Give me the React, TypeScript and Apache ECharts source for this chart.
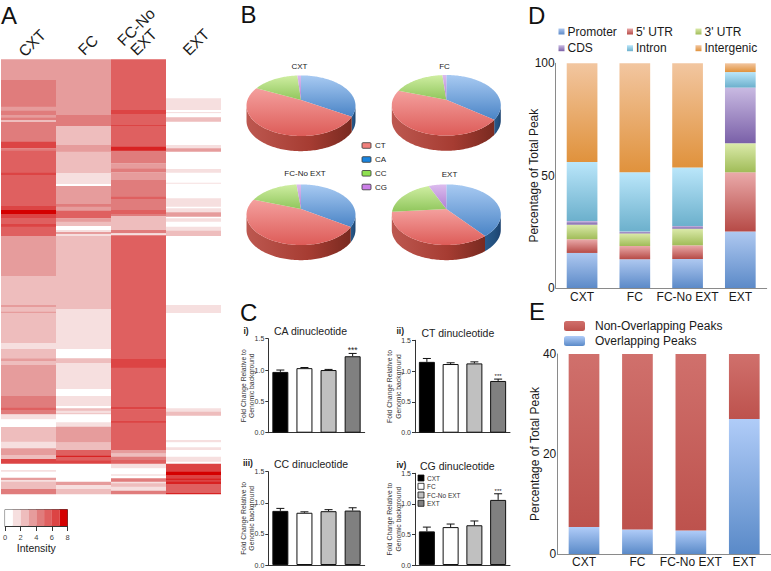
import React, { useEffect, useRef } from "react";
import * as echarts from "echarts";

const FONT = "Liberation Sans";

// ---------- Panel A: heat map, run-length rows [endRow, level]; rows are continuous from 178
const heatColumns = ["CXT", "FC", "FC-No EXT", "EXT"];
const heatStart = 178;
const heatEnd = 1482;
const heatCXT = [[240,3],[320,4],[332,3],[345,4],[352,3],[360,4],[366,2],[425,4],[445,6],[452,4],[518,5],[525,6],[618,5],[630,6],[642,8],[654,6],[672,5],[680,6],[708,5],[828,3],[915,2],[921,3],[935,2],[939,3],[1030,2],[1047,1],[1075,2],[1083,3],[1095,2],[1188,3],[1223,4],[1230,5],[1243,4],[1258,1],[1281,0],[1325,2],[1345,1],[1365,3],[1377,2],[1391,6],[1410,0],[1415,1],[1433,0],[1440,3],[1445,1],[1467,2],[1482,4]];
const heatFC = [[345,3],[378,4],[435,2],[455,3],[520,2],[552,1],[558,0],[612,3],[620,4],[632,3],[655,5],[665,3],[678,2],[690,0],[696,1],[702,3],[708,1],[927,2],[1047,1],[1075,0],[1090,2],[1167,1],[1188,0],[1218,1],[1225,0],[1232,2],[1240,1],[1243,2],[1267,0],[1280,1],[1327,3],[1350,2],[1367,5],[1371,7],[1381,5],[1391,6],[1445,0],[1455,3],[1467,1],[1482,2]];
const heatFCNo = [[330,5],[342,6],[360,5],[375,5],[378,6],[440,5],[452,7],[490,4],[505,3],[517,4],[540,3],[555,4],[590,4],[597,5],[630,4],[642,5],[648,4],[690,2],[700,4],[706,1],[1075,5],[1103,6],[1221,5],[1228,6],[1263,5],[1268,6],[1350,5],[1360,3],[1370,2],[1380,4],[1391,5],[1405,1],[1423,0],[1427,1],[1435,0],[1445,4],[1450,1],[1460,2],[1472,1],[1482,4]];
const heatEXT = [[295,0],[330,1],[336,0],[340,1],[352,0],[365,2],[435,0],[445,1],[455,3],[507,0],[518,1],[548,0],[551,1],[595,0],[620,1],[625,0],[637,1],[650,3],[655,0],[665,1],[680,0],[692,1],[708,2],[915,0],[939,1],[1225,0],[1235,1],[1247,2],[1320,0],[1327,1],[1342,0],[1350,1],[1370,0],[1385,1],[1391,0],[1415,6],[1425,8],[1435,6],[1440,7],[1445,6],[1452,7],[1479,5],[1482,7]];
const heatRuns = [heatCXT, heatFC, heatFCNo, heatEXT];
const heatPalette = ["#ffffff","#f6dfdf","#eebdbd","#e69c9c","#e07c7c","#df6060","#dc4444","#d82222","#d40000"];
const intensityCells = [0,1,2,3,4,5,6,8];

// ---------- Panel B: pies (percent)
const pieNames = ["CXT", "FC", "FC-No EXT", "EXT"];
const nucleotides = ["CT", "CA", "CC", "CG"];
const pieCA = [33.5, 35.3, 34.2, 39.3];
const pieCT = [48.6, 44.9, 46.2, 34.3];
const pieCC = [16.6, 18.4, 18.0, 20.0];
const pieCG = [1.3, 1.4, 1.6, 6.4];

// ---------- Panel C
const groups = ["CXT", "FC", "FC-No EXT", "EXT"];
const groupFill = ["#000000", "#ffffff", "#c0c0c0", "#808080"];
const caValues = [0.97, 1.03, 1.0, 1.22];
const caErrors = [0.03, 0.01, 0.01, 0.045];
const ctValues = [1.15, 1.115, 1.125, 0.84];
const ctErrors = [0.055, 0.02, 0.025, 0.03];
const ccValues = [0.87, 0.84, 0.865, 0.875];
const ccErrors = [0.04, 0.015, 0.025, 0.045];
const cgValues = [0.55, 0.62, 0.65, 1.065];
const cgErrors = [0.07, 0.05, 0.07, 0.1];

// ---------- Panel D
const promoter = [15.6, 12.8, 12.9, 25.1];
const utr5 = [6.1, 5.9, 6.1, 26.4];
const utr3 = [6.5, 5.6, 7.4, 12.9];
const cds = [1.6, 0.8, 1.2, 24.8];
const intron = [26.3, 26.4, 26.0, 6.9];
const intergenic = [43.9, 48.5, 46.4, 3.9];

// ---------- Panel E
const overlapping = [5.4, 4.9, 4.7, 27];
const nonOverlapping = [34.6, 35.1, 35.3, 13];

const vGrad = (a: string, b: string) =>
  new echarts.graphic.LinearGradient(0, 0, 0, 1, [
    { offset: 0, color: a },
    { offset: 1, color: b },
  ]);

const PIE_TOP: string[][] = [
  ["#f4a09e", "#dd5c58"],
  ["#a8caf2", "#4a84c6"],
  ["#cfeea2", "#90c65c"],
  ["#dcbcee", "#b080d2"],
];
const PIE_SIDE: string[][] = [
  ["#bd5850", "#a63c32", "#792a20"],
  ["#2a5a8c", "#22507e", "#1c4270"],
  ["#7aa84a", "#6a9a40", "#5a8a34"],
  ["#9a70b8", "#8a60a8", "#7a5098"],
];
const APEX_V = -0.187;
const DEPTH_V = 0.5;

function rim(theta: number): [number, number] {
  const dx = Math.sin(theta);
  const dy = -Math.cos(theta);
  const b = APEX_V * dy;
  const c = APEX_V * APEX_V - 1;
  const s = -b + Math.sqrt(b * b - c);
  return [s * dx, APEX_V + s * dy];
}

function renderPieSlice(_: any, api: any) {
  const a0 = api.value(0) * 2 * Math.PI;
  const a1 = api.value(1) * 2 * Math.PI;
  const idx = api.value(2);
  const n = Math.max(4, Math.ceil((a1 - a0) * 40));
  const arc: [number, number][] = [];
  for (let i = 0; i <= n; i++) arc.push(rim(a0 + ((a1 - a0) * i) / n));
  const top = [api.coord([0, APEX_V]), ...arc.map((p) => api.coord(p))];
  const front = arc.filter((p) => p[1] >= 0);
  const children: any[] = [];
  if (front.length > 1) {
    const upper = front.map((p) => api.coord(p));
    const lower = front.map((p) => api.coord([p[0], p[1] + DEPTH_V])).reverse();
    const s = PIE_SIDE[idx];
    children.push({
      type: "polygon",
      shape: { points: [...upper, ...lower] },
      style: {
        fill: new echarts.graphic.LinearGradient(0, 0, 1, 0, [
          { offset: 0, color: s[0] },
          { offset: 0.6, color: s[1] },
          { offset: 1, color: s[2] },
        ]),
      },
    });
  }
  children.push({
    type: "polygon",
    shape: { points: top },
    style: { fill: new echarts.graphic.LinearGradient(0, 0, 0, 1, [
      { offset: 0, color: PIE_TOP[idx][0] },
      { offset: 1, color: PIE_TOP[idx][1] },
    ]) },
  });
  return { type: "group", children };
}

function renderError(_: any, api: any) {
  const cat = api.value(0);
  const v = api.value(1);
  const e = api.value(2);
  const starSize = api.value(3);
  const a = api.coord([cat, v]);
  const b = api.coord([cat, v + e]);
  const ls = { stroke: "#111", lineWidth: 1 };
  const children: any[] = [
    { type: "line", shape: { x1: a[0], y1: a[1], x2: b[0], y2: b[1] }, style: ls },
    { type: "line", shape: { x1: b[0] - 4, y1: b[1], x2: b[0] + 4, y2: b[1] }, style: ls },
  ];
  if (starSize > 0) {
    children.push({
      type: "text",
      style: { text: "***", x: b[0], y: b[1] - 3, align: "center", verticalAlign: "middle", fontSize: starSize, fill: "#222", fontFamily: FONT },
    });
  }
  return { type: "group", children };
}

function renderHeat(_: any, api: any) {
  const c = api.coord([api.value(0), api.value(1)]);
  const d = api.coord([api.value(0), api.value(2)]);
  const w = api.size([1, 0])[0];
  return {
    type: "rect",
    shape: { x: c[0] - w / 2, y: c[1], width: w, height: d[1] - c[1] + 0.3 },
    style: { fill: heatPalette[api.value(3)] },
  };
}

function renderCell(_: any, api: any) {
  const a = api.coord([api.value(0), 0]);
  const b = api.coord([api.value(0) + 1, 1]);
  return {
    type: "rect",
    shape: { x: a[0], y: b[1], width: b[0] - a[0], height: a[1] - b[1] },
    style: { fill: heatPalette[api.value(1)] },
  };
}

const txt = (text: string, x: number, y: number, fontSize: number, extra: any = {}, rotation = 0) => ({
  type: "text",
  x,
  y,
  rotation,
  silent: true,
  style: {
    text,
    fontSize,
    fontFamily: FONT,
    fill: "#1a1a1a",
    textAlign: "left",
    textVerticalAlign: "middle",
    ...extra,
  },
});

function buildOption() {
  const grid: any[] = [];
  const xAxis: any[] = [];
  const yAxis: any[] = [];
  const series: any[] = [];
  const legend: any[] = [];
  const graphic: any[] = [];
  const hide = { show: false };

  // A: heat map
  grid.push({ left: 1, top: 59.3, width: 220, height: 434.7 });
  xAxis.push({ type: "category", gridIndex: 0, data: heatColumns, show: false });
  yAxis.push({ type: "value", gridIndex: 0, inverse: true, min: heatStart, max: heatEnd, show: false, splitLine: hide });
  const heatData: number[][] = [];
  heatRuns.forEach((runs, col) => {
    let s = heatStart;
    runs.forEach(([end, level]) => {
      heatData.push([col, s, end, level]);
      s = end;
    });
  });
  series.push({ name: "Heat", type: "custom", xAxisIndex: 0, yAxisIndex: 0, renderItem: renderHeat, data: heatData, encode: { x: 0, y: [1, 2] }, silent: true });

  // A: intensity scale
  grid.push({ left: 2.5, top: 509.5, width: 65, height: 16.5, show: true, borderColor: "#444", borderWidth: 1, backgroundColor: "#fff" });
  xAxis.push({
    type: "value", gridIndex: 1, min: 0, max: 8, interval: 2, position: "bottom",
    axisLine: { show: true, onZero: false, lineStyle: { color: "#333" } },
    axisTick: { show: true, length: 5, lineStyle: { color: "#333" } },
    axisLabel: { fontSize: 7.5, color: "#444", margin: 7 },
    splitLine: hide,
    name: "Intensity", nameLocation: "middle", nameGap: 16, nameMoveOverlap: false, nameTextStyle: { fontSize: 10.5, color: "#1a1a1a" },
  });
  yAxis.push({ type: "value", gridIndex: 1, min: 0, max: 1, show: false, splitLine: hide });
  series.push({ name: "Scale", type: "custom", xAxisIndex: 1, yAxisIndex: 1, renderItem: renderCell, data: intensityCells.map((lv, i) => [i, lv]), encode: { x: 0, y: 1 }, silent: true });

  // B: pies
  const pieGeom = [
    { cx: 301, cy: 105.7 },
    { cx: 446.3, cy: 105.3 },
    { cx: 301, cy: 214.7 },
    { cx: 446.3, cy: 214.7 },
  ];
  const titleY = [66, 66, 173.5, 174];
  const titleX = [299.5, 444.5, 305, 449.5];
  pieGeom.forEach((g, i) => {
    const gi = grid.length;
    grid.push({ left: g.cx - 54.5, top: g.cy - 30.3, width: 109, height: 60.6 });
    xAxis.push({ type: "value", gridIndex: gi, min: -1, max: 1, show: false, splitLine: hide });
    yAxis.push({ type: "value", gridIndex: gi, min: -1, max: 1, inverse: true, show: false, splitLine: hide });
    const order: [number, number][] = [[1, pieCA[i]], [0, pieCT[i]], [2, pieCC[i]], [3, pieCG[i]]];
    let acc = 0;
    const data = order.map(([idx, v]) => {
      const row = [acc / 100, (acc + v) / 100, idx];
      acc += v;
      return row;
    });
    series.push({ name: "Pie " + pieNames[i], type: "custom", xAxisIndex: gi, yAxisIndex: gi, renderItem: renderPieSlice, data, silent: true, clip: false });
    graphic.push(txt(pieNames[i], titleX[i], titleY[i], 8, { textAlign: "center" }));
  });
  const swatchY = [145.5, 159.5, 173.3, 187];
  const swatchFill = ["#f0807c", "#1a84de", "#8ee050", "#cc80e8"];
  nucleotides.forEach((n, i) => {
    graphic.push({ type: "rect", silent: true, shape: { x: 362, y: swatchY[i] - 2.8, width: 9, height: 5.6, r: 1 }, style: { fill: swatchFill[i], stroke: "#333", lineWidth: 0.8 } });
    graphic.push(txt(n, 375, swatchY[i], 8));
  });

  // C: dinucleotide bars
  const cPanels = [
    { t: "CA dinucleotide", tag: "i)", v: caValues, e: caErrors, left: 268.3, width: 96.4, top: 338.7, h: 94, star: 8.5, tx: 274, ty: 331, gx: 243.5, gy: 331 },
    { t: "CT dinucleotide", tag: "ii)", v: ctValues, e: ctErrors, left: 415, width: 95, top: 340.3, h: 92.4, star: 6, tx: 421.5, ty: 333, gx: 396.5, gy: 331 },
    { t: "CC dinucleotide", tag: "iii)", v: ccValues, e: ccErrors, left: 268.3, width: 96.4, top: 471.7, h: 93.3, star: 0, tx: 274, ty: 463.7, gx: 243, gy: 463 },
    { t: "CG dinucleotide", tag: "iv)", v: cgValues, e: cgErrors, left: 415, width: 95, top: 473.3, h: 91.7, star: 6, tx: 420, ty: 466, gx: 396.5, gy: 465 },
  ];
  cPanels.forEach((p) => {
    const gi = grid.length;
    grid.push({ left: p.left, top: p.top, width: p.width, height: p.h });
    xAxis.push({
      type: "category", gridIndex: gi, data: groups,
      axisLine: { lineStyle: { color: "#333" } },
      axisTick: { alignWithLabel: true, length: 2, lineStyle: { color: "#333" } },
      axisLabel: { show: false },
    });
    yAxis.push({
      type: "value", gridIndex: gi, min: 0, max: 1.5, interval: 0.5,
      axisLine: { show: true, lineStyle: { color: "#333" } },
      axisTick: { show: true, length: 3, lineStyle: { color: "#333" } },
      axisLabel: { fontSize: 7, color: "#333", margin: 4, formatter: (v: number) => v.toFixed(1) },
      splitLine: hide,
      name: "Fold Change Relative to\nGenomic background",
      nameLocation: "middle", nameGap: 12.5, nameMoveOverlap: false,
      nameTextStyle: { fontSize: 6.8, color: "#333", lineHeight: 8.5 },
    });
    series.push({
      name: p.t, type: "bar", xAxisIndex: gi, yAxisIndex: gi, barWidth: 16, silent: true,
      data: p.v.map((val, i) => ({ value: val, itemStyle: { color: groupFill[i], borderColor: "#111", borderWidth: 1 } })),
    });
    series.push({
      name: p.t + " error", type: "custom", xAxisIndex: gi, yAxisIndex: gi, renderItem: renderError, silent: true, clip: false,
      data: p.v.map((val, i) => [i, val, p.e[i], i === 3 ? p.star : 0]),
      encode: { x: 0, y: 1 }, z: 3,
    });
    graphic.push(txt(p.t, p.tx, p.ty, 10.5, { fill: "#222" }));
    graphic.push(txt(p.tag, p.gx, p.gy, 8.5, { fontWeight: "bold" }));
  });
  const cLegendY = [478, 486.3, 495, 503.3];
  groups.forEach((g, i) => {
    graphic.push({ type: "rect", silent: true, shape: { x: 418, y: cLegendY[i] - 3, width: 6, height: 6 }, style: { fill: groupFill[i], stroke: "#111", lineWidth: 0.8 } });
    graphic.push(txt(g, 427, cLegendY[i], 6.5, { fill: "#333" }));
  });

  // D: stacked
  const stackAxisX = (gi: number, margin: number) => ({
    type: "category", gridIndex: gi, data: groups,
    axisLine: { lineStyle: { color: "#8a8a8a" } },
    axisTick: hide,
    axisLabel: { fontSize: 12, color: "#1a1a1a", margin, interval: 0, hideOverlap: false },
  });
  const stackAxisY = (gi: number, max: number, interval: number) => ({
    type: "value", gridIndex: gi, min: 0, max, interval,
    axisLine: { show: true, lineStyle: { color: "#8a8a8a" } },
    axisTick: hide,
    axisLabel: { fontSize: 12, color: "#1a1a1a", margin: 1 },
    splitLine: hide,
    name: "Percentage of Total Peak", nameLocation: "middle", nameGap: 16, nameMoveOverlap: false,
    nameTextStyle: { fontSize: 12, color: "#1a1a1a" },
  });
  const dIdx = grid.length;
  grid.push({ left: 555.7, top: 63.3, width: 211, height: 224.7 });
  xAxis.push(stackAxisX(dIdx, 3));
  yAxis.push(stackAxisY(dIdx, 100, 50));
  const dSeries: [string, number[], string, string, number, number, number][] = [
    ["Promoter", promoter, "#aec8f0", "#5c8ac8", 558.5, 25.5, 6],
    ["5' UTR", utr5, "#eaaaaa", "#b64a46", 627, 25.5, 6],
    ["3' UTR", utr3, "#dbeaaa", "#a0bc58", 695.5, 25.5, 6],
    ["CDS", cds, "#c9bae2", "#7a60a8", 558.5, 42.2, 6],
    ["Intron", intron, "#bae6fa", "#6cb0cc", 627, 42.2, 6],
    ["Intergenic", intergenic, "#f2c6a0", "#e0923c", 695.5, 42.2, 6],
  ];
  dSeries.forEach(([name, data, a, b, lx, ly, sz]) => {
    series.push({
      name, type: "bar", stack: "d", xAxisIndex: dIdx, yAxisIndex: dIdx, barWidth: 30.7, data, silent: true,
      itemStyle: { color: vGrad(a, b) },
    });
    legend.push({
      data: [name], left: lx, top: ly, padding: 0, itemWidth: sz, itemHeight: sz, icon: "rect", selectedMode: false,
      textStyle: { fontSize: 12, color: "#1a1a1a", padding: [0, 0, 0, -2] },
    });
  });

  // E: stacked
  const eIdx = grid.length;
  grid.push({ left: 557.3, top: 354, width: 213.7, height: 200 });
  xAxis.push(stackAxisX(eIdx, 2));
  yAxis.push(stackAxisY(eIdx, 40, 20));
  const eSeries: [string, number[], string, string, number][] = [
    ["Overlapping Peaks", overlapping, "#b0ccf8", "#5a8ac8", 335],
    ["Non-Overlapping Peaks", nonOverlapping, "#d0706c", "#bd524d", 320],
  ];
  eSeries.forEach(([name, data, a, b, ly]) => {
    series.push({
      name, type: "bar", stack: "e", xAxisIndex: eIdx, yAxisIndex: eIdx, barWidth: 30.7, data, silent: true,
      itemStyle: { color: vGrad(a, b) },
    });
    legend.push({
      data: [name], left: 564, top: ly, padding: 0, itemWidth: 21, itemHeight: 10, icon: "roundRect", selectedMode: false,
      textStyle: { fontSize: 12, color: "#1a1a1a", padding: [0, 0, 0, 5] },
    });
  });

  // panel letters
  graphic.push(txt("A", 1, 15, 24, { fill: "#111" }));
  graphic.push(txt("B", 240.5, 14.5, 24, { fill: "#111" }));
  graphic.push(txt("C", 240, 312, 24, { fill: "#111" }));
  graphic.push(txt("D", 528, 15, 24, { fill: "#111" }));
  graphic.push(txt("E", 529, 311, 24, { fill: "#111" }));

  // heat map column labels
  const r45 = Math.PI / 4;
  const mid = { textAlign: "center", fill: "#1a1a1a" };
  graphic.push(txt("CXT", 32, 43, 15.5, mid, r45));
  graphic.push(txt("FC", 88, 45, 15.5, mid, r45));
  graphic.push(txt("FC-No", 136, 27, 15.5, mid, r45));
  graphic.push(txt("EXT", 143.5, 42, 15.5, mid, r45));
  graphic.push(txt("EXT", 196, 42, 15.5, mid, r45));

  return {
    animation: false,
    backgroundColor: "#ffffff",
    textStyle: { fontFamily: FONT },
    grid, xAxis, yAxis, series, legend,
    graphic: { elements: graphic },
  };
}

export default function App() {
  const ref = useRef<HTMLDivElement>(null);
  useEffect(() => {
    const chart = echarts.init(ref.current as HTMLDivElement, undefined, { renderer: "svg" });
    chart.setOption(buildOption() as any);
    return () => chart.dispose();
  }, []);
  return <div ref={ref} style={{ position: "fixed", left: 0, top: 0, width: 771, height: 571 }} />;
}
